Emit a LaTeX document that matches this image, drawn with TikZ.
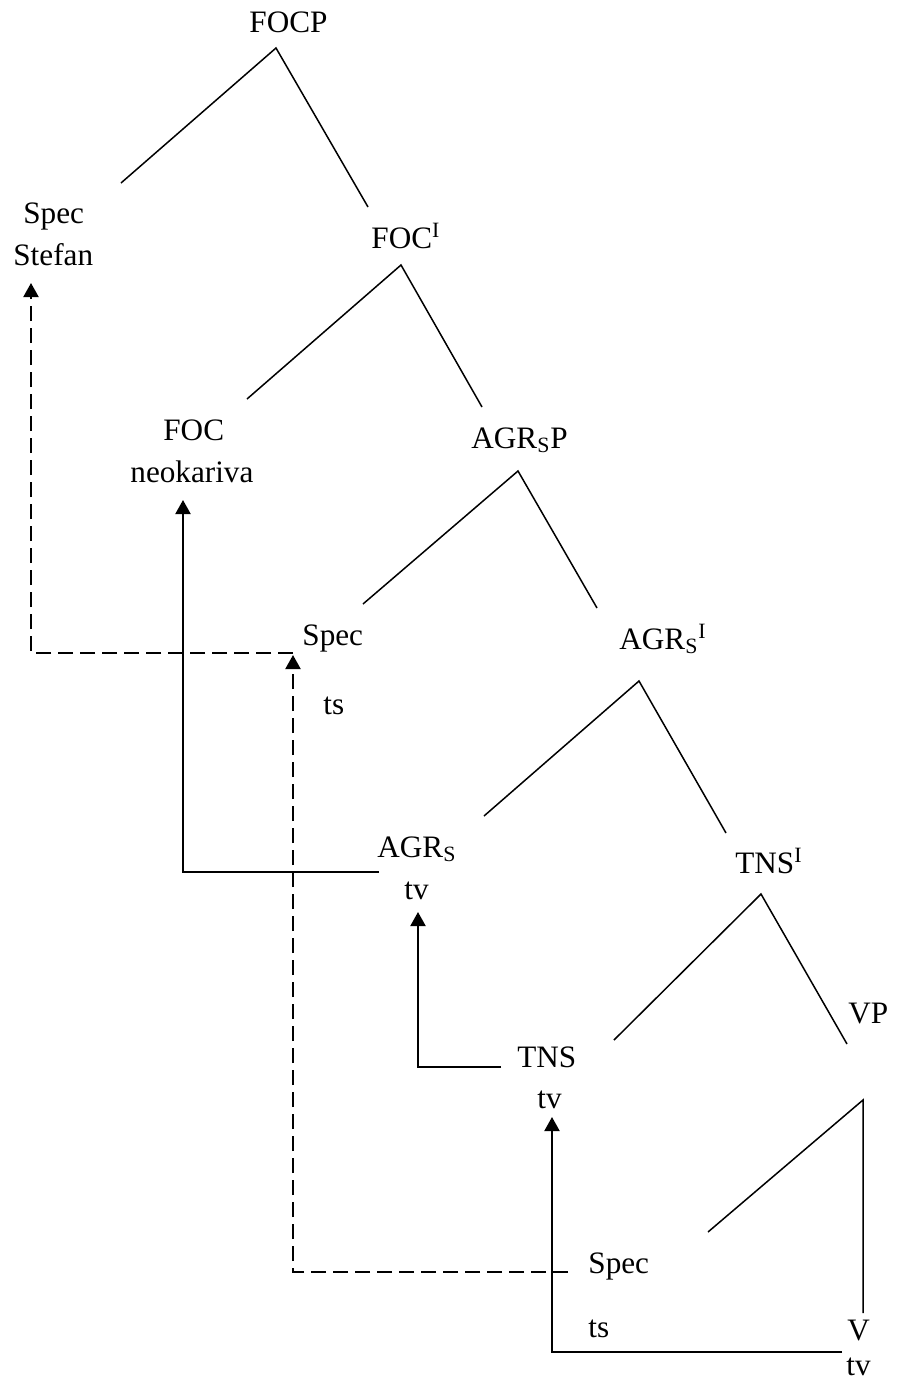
\documentclass[tikz,border=0pt]{standalone}
\usepackage{fontspec}
\setmainfont{Liberation Serif}
\usetikzlibrary{arrows.meta}
\begin{document}
\begin{tikzpicture}[x=0.5pt,y=-0.5pt,
  lbl/.style={inner sep=0pt, anchor=base west, font=\fontsize{15.6}{18}\selectfont},
  branch/.style={line width=0.75pt},
  move/.style={line width=1pt, -{Triangle[length=7pt,width=7.5pt]}},
  chain/.style={line width=1pt},
  trace/.style={dash pattern=on 7.5pt off 3.5pt}]
\useasboundingbox (0,0) rectangle (898,1387);

% labels of the tree
\node[lbl] (focp)    at (249,32)   {FOCP};
\node[lbl] (spec1)   at (23,223)   {Spec};
\node[lbl] (stefan)  at (13,265)   {Stefan};
\node[lbl] (focbar)  at (371,248)  {FOC\textsuperscript{I}};
\node[lbl] (foc)     at (163,440)  {FOC};
\node[lbl] (neok)    at (130,482)  {neokariva};
\node[lbl] (agrsp)   at (471,448)  {AGR\textsubscript{S}P};
\node[lbl] (spec2)   at (302,645)  {Spec};
\node[lbl] (ts2)     at (323,714)  {ts};
\node[lbl] (agrsbar) at (619,649)  {AGR\textsubscript{S}\textsuperscript{I}};
\node[lbl] (agrs)    at (377,857)  {AGR\textsubscript{S}};
\node[lbl] (tv1)     at (404,899)  {tv};
\node[lbl] (tnsbar)  at (735,873)  {TNS\textsuperscript{I}};
\node[lbl] (tns)     at (517,1067) {TNS};
\node[lbl] (tv2)     at (537,1108) {tv};
\node[lbl] (vp)      at (848,1023) {VP};
\node[lbl] (spec3)   at (588,1273) {Spec};
\node[lbl] (ts3)     at (588,1337) {ts};
\node[lbl] (v)       at (847,1340) {V};
\node[lbl] (tv3)     at (846,1375) {tv};

% branch points and branch ends
\coordinate (a1) at (276,48);  \coordinate (a1l) at (121,183); \coordinate (a1r) at (368,207);
\coordinate (a2) at (401,265); \coordinate (a2l) at (247,399); \coordinate (a2r) at (482,407);
\coordinate (a3) at (518,471); \coordinate (a3l) at (363,604); \coordinate (a3r) at (597,608);
\coordinate (a4) at (639,681); \coordinate (a4l) at (484,816); \coordinate (a4r) at (726,833);
\coordinate (a5) at (761,894); \coordinate (a5l) at (614,1040); \coordinate (a5r) at (847,1044);
\coordinate (a6) at (863,1100); \coordinate (a6l) at (708,1232); \coordinate (a6r) at (863,1313);

\draw[branch] (a1l) -- (a1) -- (a1r);
\draw[branch] (a2l) -- (a2) -- (a2r);
\draw[branch] (a3l) -- (a3) -- (a3r);
\draw[branch] (a4l) -- (a4) -- (a4r);
\draw[branch] (a5l) -- (a5) -- (a5r);
\draw[branch] (a6l) -- (a6) -- (a6r);

% movement of the subject (dashed)
\coordinate (s3) at (568,1272); \coordinate (s3c) at (293,1272); \coordinate (s2t) at (293,655);
\coordinate (s2) at (293,653);  \coordinate (s2c) at (31,653);   \coordinate (s1t) at (31,283);
\draw[move,trace] (s3) -- (s3c) -- (s2t);
\draw[move,trace] (s2) -- (s2c) -- (s1t);

% head movement of the verb (solid)
\coordinate (h3) at (842,1352); \coordinate (h3c) at (552,1352); \coordinate (h2t) at (552,1117);
\coordinate (h2) at (501,1067); \coordinate (h2c) at (418,1067); \coordinate (h1t) at (418,912);
\coordinate (h1) at (379,872);  \coordinate (h1c) at (183,872);  \coordinate (h0t) at (183,500);
\draw[move] (h3) -- (h3c) -- (h2t);
\draw[move] (h2) -- (h2c) -- (h1t);
\draw[move] (h1) -- (h1c) -- (h0t);
\end{tikzpicture}
\end{document}
